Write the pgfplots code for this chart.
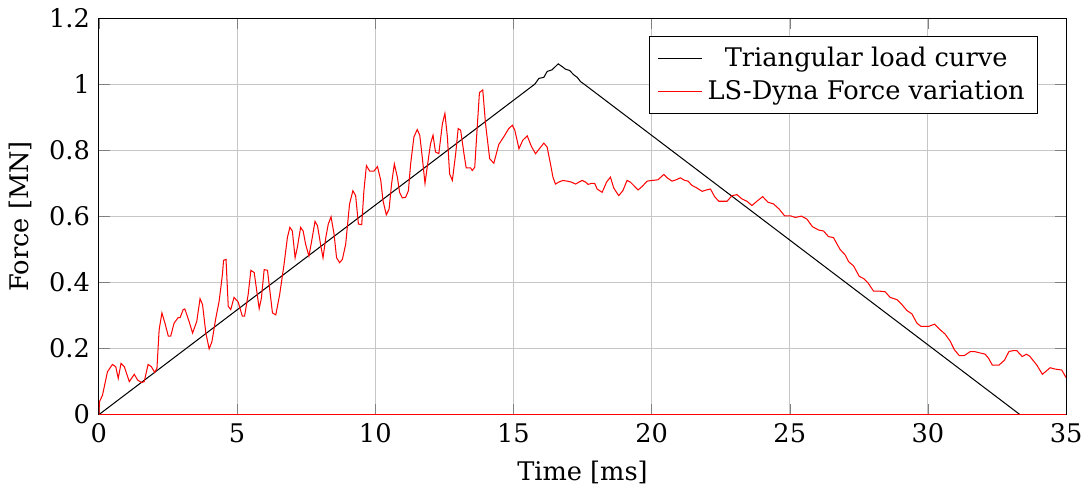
\documentclass[border=0pt]{standalone}
\usepackage{fontspec}
\setmainfont{DejaVu Serif}
\usepackage{pgfplots}
\pgfplotsset{compat=1.18}
\begin{document}
\fontsize{10pt}{12pt}\selectfont
\begin{tikzpicture}
\begin{axis}[
  scale only axis,
  width=377pt, height=154.5pt,
  xmin=0, xmax=35, ymin=0, ymax=1.2,
  xtick={0,5,...,35},
  ytick={0,0.2,0.4,0.6,0.8,1,1.2},
  grid=major,
  major grid style={gray!45},
  xlabel={Time [ms]},
  ylabel={Force [MN]},
  /pgf/number format/assume math mode=true,
  tick label style={font=\fontsize{10pt}{12pt}\selectfont},
  label style={font=\fontsize{10pt}{12pt}\selectfont},
  legend cell align=center,
  legend style={at={(0.971,0.955)}, anchor=north east, font=\fontsize{10pt}{12pt}\selectfont},
]
\addplot[black, thin] coordinates {
(0,0) (15.78,1.001) (15.92,1.018) (16.10,1.021) (16.22,1.039) (16.40,1.044)
(16.62,1.062) (16.79,1.052) (16.88,1.046) (17.03,1.042) (17.18,1.029)
(17.31,1.021) (17.43,1.008) (17.55,1.001) (33.33,0)
};
\addlegendentry{Triangular load curve}
\addplot[red, thin] coordinates {
(0,0) (0.02,0.039) (0.13,0.059) (0.31,0.13) (0.49,0.152) (0.61,0.145) (0.70,0.11)
(0.80,0.155) (0.92,0.145) (1.10,0.10) (1.28,0.122) (1.40,0.105) (1.54,0.097)
(1.64,0.10) (1.78,0.152) (1.90,0.145) (2.02,0.128) (2.10,0.14) (2.18,0.257)
(2.28,0.308) (2.39,0.277) (2.51,0.238) (2.60,0.238) (2.72,0.277) (2.87,0.294)
(2.94,0.294) (3.05,0.318) (3.11,0.32) (3.27,0.28) (3.39,0.247) (3.54,0.282)
(3.66,0.351) (3.75,0.333) (3.87,0.247) (3.99,0.199) (4.09,0.221) (4.23,0.292)
(4.35,0.343) (4.47,0.424) (4.51,0.467) (4.60,0.47) (4.68,0.328) (4.77,0.318)
(4.89,0.355) (5.04,0.341) (5.19,0.298) (5.27,0.298) (5.40,0.363) (5.50,0.437)
(5.62,0.43) (5.80,0.321) (5.88,0.353) (5.98,0.439) (6.10,0.437) (6.28,0.308)
(6.40,0.302) (6.54,0.363) (6.70,0.455) (6.82,0.536) (6.91,0.567) (7.00,0.556)
(7.10,0.475) (7.18,0.506) (7.30,0.567) (7.39,0.556) (7.48,0.516) (7.60,0.48)
(7.70,0.526) (7.82,0.585) (7.91,0.572) (8.03,0.511) (8.11,0.475) (8.21,0.536)
(8.30,0.577) (8.40,0.599) (8.51,0.546) (8.60,0.475) (8.71,0.46) (8.81,0.47)
(8.93,0.516) (9.07,0.638) (9.19,0.678) (9.29,0.663) (9.39,0.577) (9.51,0.575)
(9.59,0.678) (9.68,0.754) (9.80,0.737) (9.95,0.737) (10.08,0.751) (10.20,0.709)
(10.28,0.648) (10.40,0.605) (10.50,0.622) (10.59,0.698) (10.69,0.759) (10.80,0.719)
(10.88,0.673) (10.98,0.656) (11.10,0.658) (11.20,0.678) (11.28,0.759) (11.40,0.841)
(11.52,0.863) (11.61,0.846) (11.70,0.78) (11.80,0.70) (11.88,0.749) (12.00,0.82)
(12.09,0.846) (12.18,0.795) (12.30,0.79) (12.43,0.881) (12.52,0.912) (12.61,0.841)
(12.69,0.729) (12.79,0.709) (12.91,0.79) (13.00,0.866) (13.09,0.861) (13.21,0.79)
(13.29,0.747) (13.45,0.747) (13.51,0.739) (13.60,0.749) (13.69,0.871) (13.77,0.975)
(13.89,0.983) (13.99,0.881) (14.14,0.775) (14.29,0.761) (14.47,0.818) (14.65,0.841)
(14.83,0.866) (14.96,0.876) (15.05,0.861) (15.20,0.805) (15.34,0.831) (15.50,0.844)
(15.65,0.812) (15.80,0.79) (15.94,0.805) (16.10,0.822) (16.22,0.81) (16.34,0.759)
(16.43,0.719) (16.52,0.698) (16.64,0.704) (16.79,0.709) (16.94,0.707) (17.10,0.704)
(17.25,0.698) (17.37,0.704) (17.49,0.709) (17.61,0.704) (17.70,0.697) (17.82,0.70)
(17.94,0.70) (18.03,0.683) (18.21,0.673) (18.37,0.704) (18.51,0.719) (18.63,0.686)
(18.81,0.663) (18.96,0.678) (19.11,0.709) (19.23,0.704) (19.35,0.694) (19.51,0.68)
(19.66,0.691) (19.84,0.707) (20.02,0.709) (20.23,0.711) (20.44,0.727) (20.56,0.717)
(20.74,0.707) (20.89,0.711) (21.04,0.717) (21.20,0.709) (21.32,0.707) (21.46,0.694)
(21.64,0.686) (21.83,0.676) (21.97,0.68) (22.13,0.683) (22.28,0.66) (22.43,0.646)
(22.73,0.646) (22.91,0.663) (23.09,0.666) (23.27,0.653) (23.45,0.646) (23.63,0.633)
(23.81,0.646) (24.02,0.66) (24.21,0.643) (24.41,0.638) (24.62,0.622) (24.81,0.602)
(25.02,0.602) (25.20,0.597) (25.42,0.601) (25.62,0.592) (25.82,0.569) (26.04,0.559)
(26.22,0.556) (26.40,0.539) (26.58,0.536) (26.82,0.50) (27.01,0.483) (27.13,0.463)
(27.31,0.45) (27.51,0.419) (27.67,0.412) (27.83,0.399) (28.03,0.374) (28.24,0.374)
(28.45,0.372) (28.63,0.355) (28.88,0.348) (29.06,0.333) (29.24,0.315) (29.42,0.305)
(29.60,0.277) (29.75,0.267) (30.02,0.267) (30.24,0.274) (30.40,0.26) (30.62,0.244)
(30.80,0.223) (30.96,0.196) (31.13,0.179) (31.32,0.179) (31.53,0.191) (31.68,0.191)
(31.83,0.188) (32.07,0.183) (32.19,0.171) (32.33,0.150) (32.57,0.150) (32.77,0.165)
(32.93,0.191) (33.09,0.194) (33.21,0.194) (33.41,0.176) (33.57,0.183) (33.69,0.176)
(33.94,0.150) (34.14,0.122) (34.42,0.142) (34.60,0.138) (34.84,0.135) (35.00,0.112)
};
\addlegendentry{LS-Dyna Force variation}
\addplot[red, thin, forget plot] coordinates {(0,0) (35,0)};
\end{axis}
\end{tikzpicture}
\end{document}
